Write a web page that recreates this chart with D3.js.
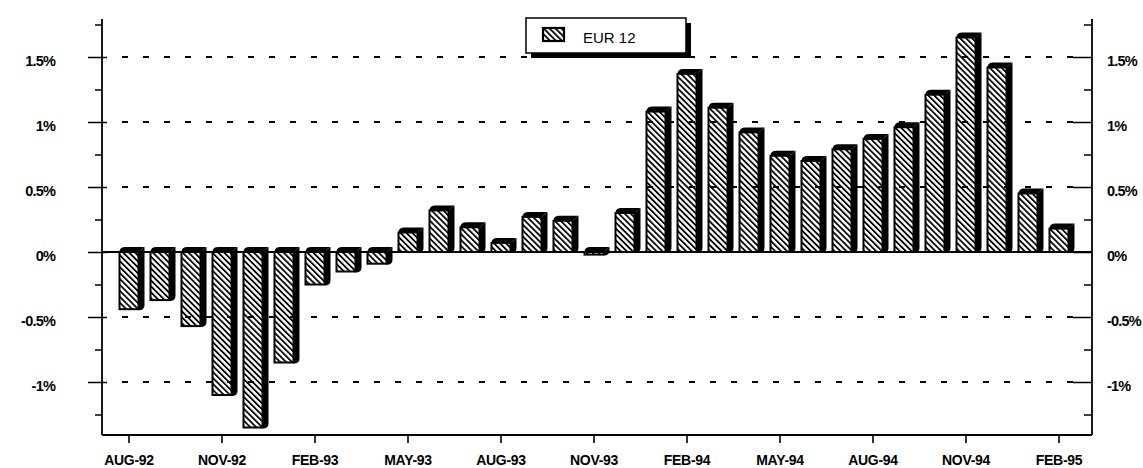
<!DOCTYPE html>
<html>
<head>
<meta charset="utf-8">
<script src="https://cdn.jsdelivr.net/npm/d3@7"></script>
<style>
  body { margin: 0; background: #fff; }
  svg { display: block; font-family: "Liberation Sans", Arial, sans-serif; }
</style>
</head>
<body>
<svg id="chart"></svg>
<script>
// Data
const months = ["AUG-92","SEP-92","OCT-92","NOV-92","DEC-92","JAN-93","FEB-93","MAR-93","APR-93",
  "MAY-93","JUN-93","JUL-93","AUG-93","SEP-93","OCT-93","NOV-93","DEC-93","JAN-94","FEB-94",
  "MAR-94","APR-94","MAY-94","JUN-94","JUL-94","AUG-94","SEP-94","OCT-94","NOV-94","DEC-94",
  "JAN-95","FEB-95"];
const values = [-0.44, -0.37, -0.57, -1.10, -1.35, -0.85, -0.25, -0.15, -0.09,
  0.15, 0.32, 0.19, 0.07, 0.27, 0.24, -0.02, 0.30, 1.08, 1.37,
  1.11, 0.92, 0.74, 0.70, 0.79, 0.87, 0.96, 1.21, 1.65, 1.42,
  0.45, 0.18];
const tickLabels = ["AUG-92","NOV-92","FEB-93","MAY-93","AUG-93","NOV-93","FEB-94","MAY-94","AUG-94","NOV-94","FEB-95"];
const yMajor = [-1, -0.5, 0, 0.5, 1, 1.5];
const yMinor = [-1.25, -0.75, -0.25, 0.25, 0.75, 1.25, 1.75];
const seriesName = "EUR 12";

const W = 1143, H = 468;
const plotLeft = 102, plotRight = 1092, plotTop = 18, plotBottom = 434;

const svg = d3.select("#chart").attr("width", W).attr("height", H);

// hatch pattern
const defs = svg.append("defs");
defs.append("pattern")
    .attr("id", "hatch")
    .attr("patternUnits", "userSpaceOnUse")
    .attr("width", 4.2).attr("height", 10)
    .attr("patternTransform", "rotate(-45)")
    .append("rect")
    .attr("x", 0).attr("y", 0).attr("width", 1.8).attr("height", 10)
    .attr("fill", "#000");

// Scales
const x = d3.scaleBand().domain(months).range([113.5, 113.5 + 31 * months.length]);
const y = d3.scaleLinear().domain([-1.4, 1.8]).range([plotBottom, plotTop]);

// Dashed gridlines
svg.append("g").selectAll("line")
    .data(yMajor.filter(d => d !== 0))
    .enter().append("line")
    .attr("x1", 107).attr("x2", 1073)
    .attr("y1", d => y(d)).attr("y2", d => y(d))
    .attr("stroke", "#000").attr("stroke-width", 1.8)
    .attr("stroke-dasharray", "6,15").attr("stroke-dashoffset", 6);

// zero line
svg.append("line")
    .attr("x1", plotLeft).attr("x2", plotRight)
    .attr("y1", y(0)).attr("y2", y(0))
    .attr("stroke", "#000").attr("stroke-width", 1.8);

// Left axis: minor ticks, major ticks + labels
svg.append("g")
    .attr("transform", `translate(${plotLeft},0)`)
    .call(d3.axisLeft(y).tickValues(yMinor).tickSize(7).tickFormat(""))
    .call(g => g.select(".domain").remove())
    .selectAll("line").attr("stroke-width", 1.5);

svg.append("g")
    .attr("transform", `translate(107,0)`)
    .call(d3.axisLeft(y).tickValues(yMajor).tickSize(19).tickPadding(33)
        .tickFormat(d => d + "%"))
    .call(g => g.select(".domain").remove())
    .call(g => g.selectAll("line").attr("stroke-width", 1.5))
    .call(g => g.selectAll("text")
        .attr("dy", "0.58em")
        .attr("font-size", 14.5).attr("font-weight", "bold")
        .attr("letter-spacing", -0.8)
        .attr("font-family", "Liberation Sans, Arial, sans-serif"));

svg.append("line")
    .attr("x1", plotLeft).attr("x2", plotLeft).attr("y1", plotTop + 1).attr("y2", plotBottom + 1)
    .attr("stroke", "#000").attr("stroke-width", 1.8);

// Right axis
svg.append("g")
    .attr("transform", `translate(${plotRight},0)`)
    .call(d3.axisLeft(y).tickValues(yMinor).tickSize(8).tickFormat(""))
    .call(g => g.select(".domain").remove())
    .selectAll("line").attr("stroke-width", 1.5);

svg.append("g")
    .attr("transform", `translate(${plotRight},0)`)
    .call(d3.axisLeft(y).tickValues(yMajor).tickSize(19).tickFormat(""))
    .call(g => g.select(".domain").remove())
    .selectAll("line").attr("stroke-width", 1.5);

svg.append("g")
    .attr("transform", `translate(${plotRight},0)`)
    .call(d3.axisRight(y).tickValues(yMajor).tickSize(0).tickPadding(15)
        .tickFormat(d => d + "%"))
    .call(g => g.select(".domain").remove())
    .call(g => g.selectAll("text")
        .attr("dy", "0.58em")
        .attr("font-size", 14.5).attr("font-weight", "bold")
        .attr("letter-spacing", -0.8)
        .attr("font-family", "Liberation Sans, Arial, sans-serif"));

svg.append("line")
    .attr("x1", plotRight).attr("x2", plotRight).attr("y1", plotTop + 1).attr("y2", plotBottom + 1)
    .attr("stroke", "#000").attr("stroke-width", 1.8);

// Bottom axis
svg.append("g")
    .attr("transform", `translate(0,${plotBottom + 1})`)
    .call(d3.axisBottom(x).tickValues(tickLabels).tickSize(8).tickPadding(12))
    .call(g => g.select(".domain").remove())
    .call(g => g.selectAll("line").attr("stroke-width", 1.6))
    .call(g => g.selectAll("text")
        .attr("font-size", 14).attr("font-weight", "bold")
        .attr("letter-spacing", -0.3)
        .attr("font-family", "Liberation Sans, Arial, sans-serif"));

svg.append("line")
    .attr("x1", plotLeft).attr("x2", plotRight).attr("y1", plotBottom + 1).attr("y2", plotBottom + 1)
    .attr("stroke", "#000").attr("stroke-width", 1.8);

// 3D bars
const fw = 19, dx = 6, dy = 5;
const bars = svg.append("g").selectAll("g")
    .data(months.map((m, i) => ({ m, v: values[i] })))
    .enter().append("g");

bars.each(function (d) {
    const g = d3.select(this);
    const x0 = x(d.m) + x.bandwidth() / 2 - fw / 2;
    const yT = y(Math.max(d.v, 0));
    const yB = y(Math.min(d.v, 0));
    // side face
    g.append("path")
        .attr("d", `M${x0 + fw},${yT} L${x0 + fw + dx},${yT - dy} L${x0 + fw + dx},${yB - dy + 1} Q${x0 + fw + dx},${yB + 1} ${x0 + fw},${yB + 1} Z`)
        .attr("fill", "#000");
    // top face
    g.append("path")
        .attr("d", `M${x0},${yT} Q${x0},${yT - dy} ${x0 + dx},${yT - dy} L${x0 + fw + dx},${yT - dy} L${x0 + fw},${yT} Z`)
        .attr("fill", "#000");
    // front face
    g.append("rect")
        .attr("x", x0).attr("y", yT)
        .attr("width", fw).attr("height", Math.max(yB - yT, 0.5))
        .attr("fill", "url(#hatch)")
        .attr("stroke", "#000").attr("stroke-width", 2);
});

// Legend
const lg = svg.append("g").attr("transform", "translate(526,18)");
lg.append("rect").attr("x", 5).attr("y", 5).attr("width", 160).attr("height", 35).attr("fill", "#000");
lg.append("rect").attr("x", 0).attr("y", 0).attr("width", 160).attr("height", 35)
    .attr("fill", "#fff").attr("stroke", "#000").attr("stroke-width", 1.5);
lg.append("rect").attr("x", 17).attr("y", 10).attr("width", 21).attr("height", 13)
    .attr("fill", "url(#hatch)").attr("stroke", "#000").attr("stroke-width", 2.2);
lg.append("text").attr("x", 57).attr("y", 25)
    .attr("font-size", 15).attr("fill", "#000")
    .text(seriesName);
</script>
</body>
</html>
